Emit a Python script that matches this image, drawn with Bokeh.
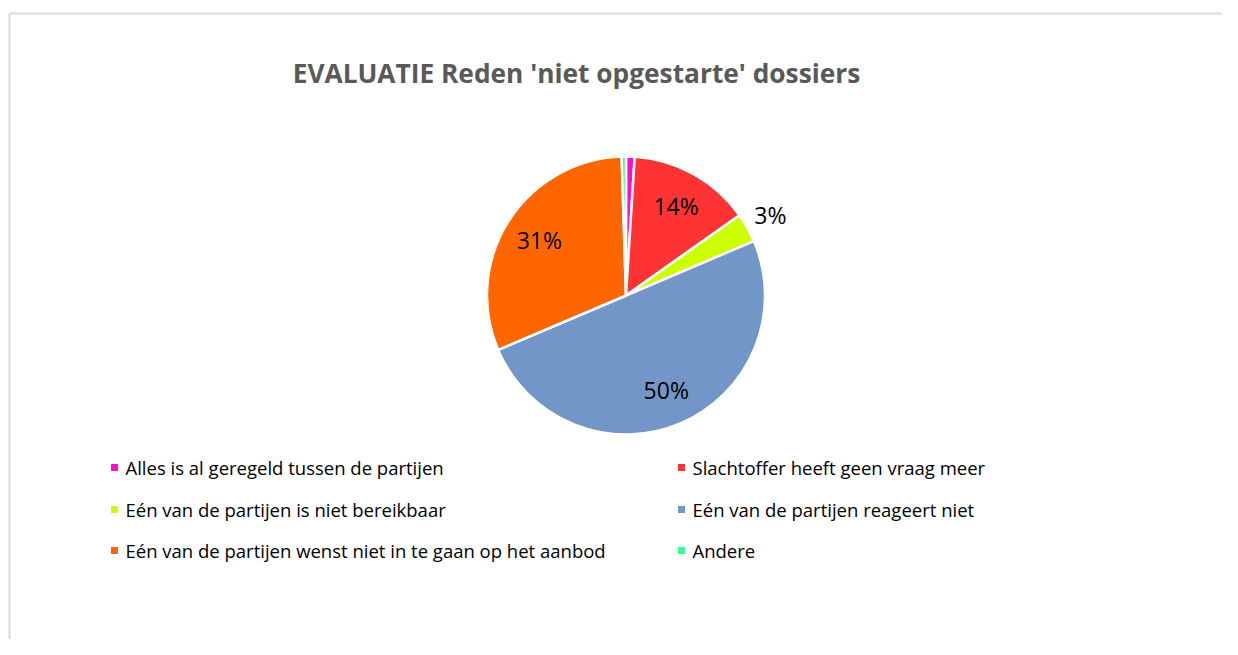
import math
from bokeh.plotting import figure
from bokeh.models import Range1d, ColumnDataSource
from bokeh.core.properties import value
from bokeh.embed import file_html
from bokeh.resources import INLINE

# ---- data ----
title = "EVALUATIE Reden 'niet opgestarte' dossiers"
categories = [
    "Alles is al geregeld tussen de partijen",
    "Slachtoffer heeft geen vraag meer",
    "Eén van de partijen is niet bereikbaar",
    "Eén van de partijen reageert niet",
    "Eén van de partijen wenst niet in te gaan op het aanbod",
    "Andere",
]
values = [1.0, 14.2, 3.4, 50.0, 30.9, 0.5]
labels = ["", "14%", "3%", "50%", "31%", ""]
label_outside = [False, False, True, False, False, False]
colors = ["#FF0CCC", "#FF3333", "#CCFF00", "#7396C8", "#FF6600", "#33FF99"]

W, H = 1222, 639
FONT = "Open Sans"


def px(x):
    return x


def py(y):
    return H - y


p = figure(width=W, height=H, output_backend="svg", toolbar_location=None,
           x_range=Range1d(0, W), y_range=Range1d(0, H), min_border=0)
p.axis.visible = False
p.grid.visible = False
p.outline_line_color = None
p.background_fill_color = "white"
p.border_fill_color = "white"

# chart border (light grey frame)
p.multi_line(xs=[[px(9), W], [px(9), px(9)]], ys=[[py(13), py(13)], [py(13), 0]],
             line_color="#D9D9D9", line_width=2)

# title
p.text(x=[px(576)], y=[py(72)], text=[title], text_font=value(FONT),
       text_font_style="bold", text_font_size="26.3px", text_color="#595959",
       text_align="center", text_baseline="middle")

# pie
cx, cy, R = px(625.5), py(295), 139
total = sum(values)
starts, ends, mids = [], [], []
acc = 0.0
for v in values:
    a0 = math.pi / 2 - 2 * math.pi * acc / total
    acc += v
    a1 = math.pi / 2 - 2 * math.pi * acc / total
    starts.append(a0)
    ends.append(a1)
    mids.append((a0 + a1) / 2)

src = ColumnDataSource(dict(start=starts, end=ends, color=colors))
p.wedge(x=cx, y=cy, radius=R, radius_units="screen", start_angle="start",
        end_angle="end", direction="clock", fill_color="color",
        line_color="white", line_width=2.5, source=src)

lx, ly, lt = [], [], []
for lab, out, m in zip(labels, label_outside, mids):
    if not lab:
        continue
    r = R * (1.19 if out else 0.74)
    lx.append(cx + r * math.cos(m))
    ly.append(cy + r * math.sin(m))
    lt.append(lab)
p.text(x=lx, y=ly, text=lt, text_font=value(FONT), text_font_size="23px",
       text_color="#000000", text_align="center", text_baseline="middle")

# legend (2 columns, row-major)
col_x = [px(114), px(681)]
row_y = [py(467), py(509), py(550)]
mx, my, tx, ty = [], [], [], []
for i, name in enumerate(categories):
    r, c = divmod(i, 2)
    mx.append(col_x[c])
    my.append(row_y[r])
    tx.append(col_x[c] + 11)
    ty.append(row_y[r])
p.scatter(x=mx, y=my, marker="square", size=7, fill_color=colors, line_color=None)
p.text(x=tx, y=ty, text=categories, text_font=value(FONT), text_font_size="18.5px",
       text_color="#000000", text_align="left", text_baseline="middle")

open("out.html", "w").write(file_html(p, INLINE))
